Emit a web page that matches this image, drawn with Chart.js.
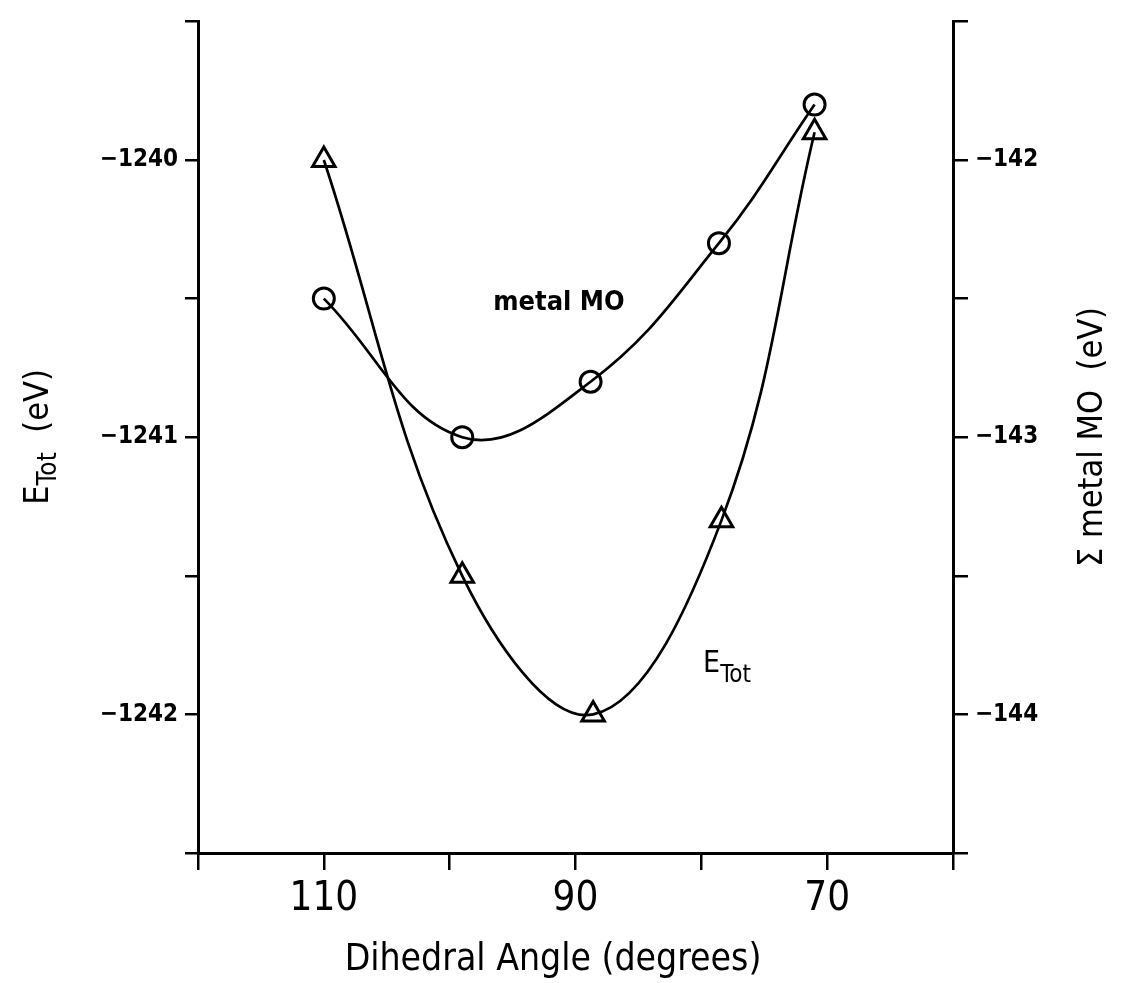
<!DOCTYPE html>
<html><head><meta charset="utf-8">
<script src="https://cdn.jsdelivr.net/npm/chart.js@4/dist/chart.umd.min.js"></script>
<style>html,body{margin:0;padding:0;background:#fff;}canvas{display:block;}</style>
</head><body>
<canvas id="c" width="1127" height="983"></canvas>
<script>
// ---- data ----
const angleTot = [110, 99, 88.6, 78.4, 71];
const eTot = [-1240.0, -1241.5, -1242.0, -1241.3, -1239.9];
const angleMO = [110, 99, 88.8, 78.6, 71];
const metalMO = [-142.5, -143.0, -142.8, -142.3, -141.8];
const xTickLabels = [110, 90, 70];
const leftTickLabels = [-1240, -1241, -1242];
const rightTickLabels = [-142, -143, -144];

const COND = '"DejaVu Sans Condensed", "DejaVu Sans", sans-serif';
const NARROW = '"Liberation Sans Narrow", "DejaVu Sans Condensed", sans-serif';

function fmtNeg(v){ return '\u2212' + Math.abs(v); }

function drawParts(ctx, parts, cx, cy, rot){
  ctx.save();
  ctx.translate(cx, cy);
  ctx.rotate(rot);
  ctx.fillStyle = '#000';
  ctx.textBaseline = 'alphabetic';
  ctx.textAlign = 'left';
  let total = 0;
  parts.forEach(p => { ctx.font = p.font; p.w = ctx.measureText(p.text).width; total += p.w; });
  let x = -total / 2;
  parts.forEach(p => { ctx.font = p.font; ctx.fillText(p.text, x, p.dy); x += p.w; });
  ctx.restore();
}

const textPlugin = {
  id: 'texts',
  afterDraw(chart){
    const ctx = chart.ctx;
    // x axis title
    drawParts(ctx, [
      {text: 'Dihedral Angle (degrees)', font: '37px ' + COND, dy: 13}
    ], 553, 957, 0);
    // left axis title  E_Tot (eV)
    drawParts(ctx, [
      {text: 'E', font: '34px ' + COND, dy: 12},
      {text: 'Tot', font: '26px ' + COND, dy: 20},
      {text: '  (eV)', font: '34px ' + COND, dy: 12}
    ], 36, 437, -Math.PI/2);
    // right axis title  Σ metal MO (eV)
    drawParts(ctx, [
      {text: '\u03A3 metal MO  (eV)', font: '34px ' + COND, dy: 12}
    ], 1090, 437, -Math.PI/2);
    // series annotations
    drawParts(ctx, [
      {text: 'metal MO', font: 'bold 27px ' + COND, dy: 10}
    ], 559, 300, 0);
    drawParts(ctx, [
      {text: 'E', font: '30px ' + COND, dy: 11},
      {text: 'Tot', font: '24px ' + COND, dy: 21}
    ], 727, 661, 0);
  }
};

const axisBorder = {display: true, color: '#000', width: 3};

new Chart(document.getElementById('c'), {
  type: 'line',
  data: {
    datasets: [
      {
        label: 'E Tot',
        yAxisID: 'y',
        data: angleTot.map((a, i) => ({x: a, y: eTot[i]})),
        borderColor: '#000', borderWidth: 2.7,
        pointStyle: 'triangle', pointRadius: 13,
        pointBorderColor: '#000', pointBorderWidth: 3,
        pointBackgroundColor: 'rgba(0,0,0,0)',
        tension: 0.38, fill: false
      },
      {
        label: 'metal MO',
        yAxisID: 'y2',
        data: angleMO.map((a, i) => ({x: a, y: metalMO[i]})),
        borderColor: '#000', borderWidth: 2.7,
        pointStyle: 'circle', pointRadius: 10.5,
        pointBorderColor: '#000', pointBorderWidth: 3,
        pointBackgroundColor: 'rgba(0,0,0,0)',
        tension: 0.4, fill: false
      }
    ]
  },
  options: {
    responsive: false,
    animation: false,
    layout: {padding: {top: 18, left: 0, right: 0, bottom: 0}},
    plugins: {legend: {display: false}, tooltip: {enabled: false}},
    scales: {
      x: {
        type: 'linear', reverse: true, min: 60, max: 120,
        ticks: {
          stepSize: 10, autoSkip: false, maxRotation: 0, color: '#000', padding: 6,
          font: {family: NARROW, size: 40},
          callback: v => xTickLabels.includes(v) ? String(v) : ''
        },
        grid: {drawOnChartArea: false, drawTicks: true, tickLength: 17, color: '#000', lineWidth: 2.5},
        border: axisBorder,
        title: {display: false},
        afterFit(s){ s.height = 130; }
      },
      y: {
        type: 'linear', position: 'left', min: -1242.5, max: -1239.5,
        ticks: {
          stepSize: 0.5, color: '#000', padding: 7,
          font: {family: COND, size: 24, weight: 'bold'},
          callback: v => leftTickLabels.includes(v) ? fmtNeg(v) : ''
        },
        grid: {drawOnChartArea: false, drawTicks: true, tickLength: 13, color: '#000', lineWidth: 2.5},
        border: axisBorder,
        afterFit(s){ s.width = 198; }
      },
      y2: {
        type: 'linear', position: 'right', min: -144.5, max: -141.5,
        ticks: {
          stepSize: 0.5, color: '#000', padding: 7,
          font: {family: COND, size: 24, weight: 'bold'},
          callback: v => rightTickLabels.includes(v) ? fmtNeg(v) : ''
        },
        grid: {drawOnChartArea: false, drawTicks: true, tickLength: 15, color: '#000', lineWidth: 2.5},
        border: axisBorder,
        afterFit(s){ s.width = 174; }
      }
    }
  },
  plugins: [textPlugin]
});
</script>
</body></html>
